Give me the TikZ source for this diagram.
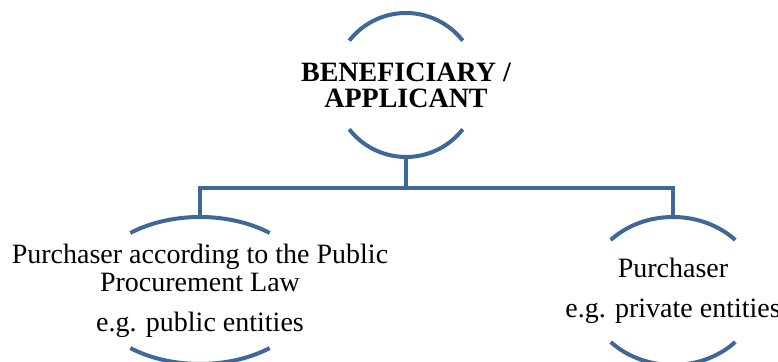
\documentclass[tikz,border=0pt]{standalone}
\usepackage{fontspec}
\setmainfont{Liberation Serif}
\usepackage{tikz}
\usetikzlibrary{calc,positioning}
\definecolor{roleblue}{HTML}{3F6899}

\begin{document}
\begin{tikzpicture}[
  x=1pt, y=1pt,
  role/.style = {align=center, inner sep=0pt,
                 font=\fontsize{14}{14}\selectfont},
  rim/.style  = {draw=roleblue, line width=2pt},
  link/.style = {draw=roleblue, line width=2pt},
]
\useasboundingbox (0,0) rectangle (389,181);
\clip (0,0) rectangle (389,181);
% nodes
\node[role, font=\fontsize{14}{13}\selectfont\bfseries] (ben) at (203,138.5) {BENEFICIARY /\\APPLICANT};
\node[role] (pub) at (100,35.75) {Purchaser according to the Public\\Procurement Law\\[6pt]e.g. public entities};
\node[role] (priv) at (336.5,35.5) {Purchaser\\[6pt]e.g. private entities};
% rims round the nodes
\draw[rim] ([shift={(38:36)}]ben.center) arc[start angle=38, end angle=142, radius=36];
\draw[rim] ([shift={(218:36)}]ben.center) arc[start angle=218, end angle=322, radius=36];
\draw[rim] ([shift={(51.5:56 and 36.75)}]pub.center) arc[start angle=51.5, end angle=128.5, x radius=56, y radius=36.75];
\draw[rim] ([shift={(231.5:56 and 36.75)}]pub.center) arc[start angle=231.5, end angle=308.5, x radius=56, y radius=36.75];
\draw[rim] ([shift={(43.6:43 and 37)}]priv.center) arc[start angle=43.6, end angle=136.4, x radius=43, y radius=37];
\draw[rim] ([shift={(223.6:43 and 37)}]priv.center) arc[start angle=223.6, end angle=316.4, x radius=43, y radius=37];
\coordinate (ben-s) at ([yshift=-36pt]ben.center);
\coordinate (pub-n) at ([yshift=36.75pt]pub.center);
\coordinate (priv-n) at ([yshift=37pt]priv.center);
\coordinate (split) at (ben-s |- 0,87);
% connectors
\draw[link] (ben-s) -- (split);
\draw[link] (pub-n) |- (split) -| (priv-n);
\end{tikzpicture}
\end{document}
